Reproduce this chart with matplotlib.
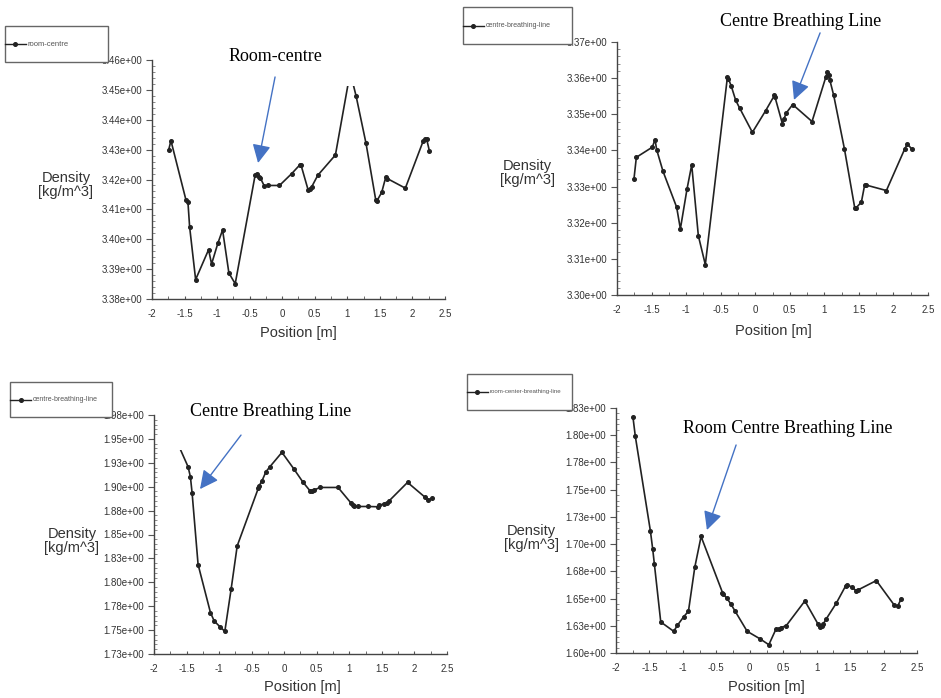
import matplotlib
matplotlib.use('Agg')
import matplotlib.pyplot as plt
from matplotlib.patches import Rectangle
from matplotlib.lines import Line2D
from matplotlib.ticker import MultipleLocator

# position [m] / density [kg/m^3]
pos_room = [-1.744, -1.709, -1.479, -1.448, -1.422, -1.330, -1.131, -1.085, -0.988, -0.916,
            -0.819, -0.722, -0.415, -0.390, -0.364, -0.338, -0.277, -0.221, -0.042, 0.147,
            0.275, 0.289, 0.398, 0.428, 0.454, 0.546, 0.817, 1.044, 1.134, 1.287,
            1.436, 1.456, 1.528, 1.589, 1.615, 1.891, 2.167, 2.192, 2.218, 2.259]
dens_room = [3.4299, 3.4330, 3.4132, 3.4124, 3.4041, 3.3865, 3.3965, 3.3917, 3.3987, 3.4031,
             3.3887, 3.3851, 3.4216, 3.4219, 3.4210, 3.4206, 3.4179, 3.4180, 3.4180, 3.4220,
             3.4250, 3.4248, 3.4165, 3.4169, 3.4176, 3.4214, 3.4282, 3.4559, 3.4480, 3.4321,
             3.4132, 3.4129, 3.4157, 3.4207, 3.4203, 3.4171, 3.4330, 3.4334, 3.4335, 3.4297]

pos_cbl = [-1.754, -1.720, -1.489, -1.450, -1.426, -1.334, -1.137, -1.083, -0.987, -0.919,
           -0.823, -0.722, -0.403, -0.389, -0.345, -0.283, -0.225, -0.041, 0.151, 0.277,
           0.287, 0.393, 0.417, 0.451, 0.542, 0.822, 1.020, 1.044, 1.063, 1.078,
           1.136, 1.290, 1.440, 1.454, 1.536, 1.584, 1.608, 1.898, 2.163, 2.202, 2.264]
dens_cbl = [3.3322, 3.3381, 3.3409, 3.3430, 3.3402, 3.3342, 3.3243, 3.3183, 3.3293, 3.3360,
            3.3164, 3.3084, 3.3602, 3.3599, 3.3577, 3.3539, 3.3517, 3.3450, 3.3510, 3.3552,
            3.3547, 3.3474, 3.3488, 3.3504, 3.3527, 3.3480, 3.3602, 3.3616, 3.3610, 3.3596,
            3.3552, 3.3405, 3.3241, 3.3240, 3.3257, 3.3305, 3.3304, 3.3289, 3.3404, 3.3418, 3.3404]

pos_cbl2 = [-1.745, -1.477, -1.441, -1.415, -1.323, -1.133, -1.076, -0.979, -0.912, -0.815,
            -0.722, -0.399, -0.389, -0.343, -0.281, -0.220, -0.035, 0.150, 0.283, 0.396,
            0.432, 0.453, 0.550, 0.827, 1.022, 1.053, 1.073, 1.135, 1.294, 1.438,
            1.453, 1.530, 1.576, 1.607, 1.894, 2.166, 2.207, 2.269]
dens_cbl2 = [1.9620, 1.9209, 1.9104, 1.8936, 1.8186, 1.7683, 1.7596, 1.7529, 1.7487, 1.7931,
             1.8381, 1.8982, 1.9006, 1.9059, 1.9156, 1.9209, 1.9359, 1.9184, 1.9052, 1.8957,
             1.8957, 1.8964, 1.8992, 1.8992, 1.8832, 1.8807, 1.8793, 1.8793, 1.8793, 1.8790,
             1.8807, 1.8818, 1.8825, 1.8849, 1.9045, 1.8888, 1.8860, 1.8877]

pos_rcbl = [-1.746, -1.711, -1.486, -1.451, -1.426, -1.331, -1.137, -1.082, -0.987, -0.917,
            -0.822, -0.728, -0.408, -0.393, -0.343, -0.283, -0.224, -0.039, 0.156, 0.285,
            0.395, 0.430, 0.465, 0.545, 0.824, 1.019, 1.049, 1.074, 1.094, 1.139,
            1.293, 1.433, 1.453, 1.528, 1.588, 1.618, 1.892, 2.162, 2.212, 2.266]
dens_rcbl = [1.8164, 1.7989, 1.7122, 1.6953, 1.6815, 1.6285, 1.6199, 1.6254, 1.6334, 1.6383,
             1.6788, 1.7070, 1.6555, 1.6539, 1.6503, 1.6450, 1.6389, 1.6199, 1.6129, 1.6076,
             1.6224, 1.6224, 1.6233, 1.6251, 1.6478, 1.6267, 1.6242, 1.6248, 1.6263, 1.6309,
             1.6457, 1.6616, 1.6628, 1.6604, 1.6573, 1.6579, 1.6665, 1.6438, 1.6432, 1.6500]

x_ticks = [-2, -1.5, -1, -0.5, 0, 0.5, 1, 1.5, 2, 2.5]
x_labels = ['-2', '-1.5', '-1', '-0.5', '0', '0.5', '1', '1.5', '2', '2.5']

y_ticks_1 = [3.38, 3.39, 3.40, 3.41, 3.42, 3.43, 3.44, 3.45, 3.46]
y_labels_1 = ['3.38e+00', '3.39e+00', '3.40e+00', '3.41e+00', '3.42e+00', '3.43e+00',
              '3.44e+00', '3.45e+00', '3.46e+00']
y_ticks_2 = [3.30, 3.31, 3.32, 3.33, 3.34, 3.35, 3.36, 3.37]
y_labels_2 = ['3.30e+00', '3.31e+00', '3.32e+00', '3.33e+00', '3.34e+00', '3.35e+00',
              '3.36e+00', '3.37e+00']
y_ticks_3 = [1.725, 1.75, 1.775, 1.80, 1.825, 1.85, 1.875, 1.90, 1.925, 1.95, 1.975]
y_labels_3 = ['1.73e+00', '1.75e+00', '1.78e+00', '1.80e+00', '1.83e+00', '1.85e+00',
              '1.88e+00', '1.90e+00', '1.93e+00', '1.95e+00', '1.98e+00']
y_ticks_4 = [1.60, 1.625, 1.65, 1.675, 1.70, 1.725, 1.75, 1.775, 1.80, 1.825]
y_labels_4 = ['1.60e+00', '1.63e+00', '1.65e+00', '1.68e+00', '1.70e+00', '1.73e+00',
              '1.75e+00', '1.78e+00', '1.80e+00', '1.83e+00']

legend_names = ['room-centre', 'centre-breathing-line', 'centre-breathing-line',
                'room-center-breathing-line']
notes = ['Room-centre', 'Centre Breathing Line', 'Centre Breathing Line',
         'Room Centre Breathing Line']

W, H = 941, 698
fig = plt.figure(figsize=(W / 100, H / 100), dpi=100)
plt.rcParams['font.family'] = ['Liberation Sans', 'DejaVu Sans']


def px_rect(l, t, r, b):
    return [l / W, 1 - b / H, (r - l) / W, (b - t) / H]


# axes boxes, legend boxes, label spots, note/arrow spots (pixels / axes fraction)
panels = [
    dict(ax=(152, 60, 445, 299), leg=(5, 26, 108, 62), lfs=5.5, ylab=(-0.294, 0.477), xlab=(0.498, -0.142),
         x=pos_room, y=dens_room, yt=y_ticks_1, yl=y_labels_1, ylim=(3.38, 3.46), minor=0.002,
         clip=3.4513, note=(0.420, 1.013), tail=(0.420, 0.929), tip=(0.362, 0.569)),
    dict(ax=(617, 42, 928, 295), leg=(463, 7, 572, 44), lfs=5, ylab=(-0.289, 0.482), xlab=(0.502, -0.142),
         x=pos_cbl, y=dens_cbl, yt=y_ticks_2, yl=y_labels_2, ylim=(3.30, 3.37), minor=0.002,
         clip=None, note=(0.592, 1.083), tail=(0.653, 1.036), tip=(0.569, 0.771)),
    dict(ax=(154, 415, 447, 654), leg=(10, 382, 112, 417), lfs=5, ylab=(-0.280, 0.473), xlab=(0.505, -0.138),
         x=pos_cbl2, y=dens_cbl2, yt=y_ticks_3, yl=y_labels_3, ylim=(1.725, 1.975), minor=0.005,
         clip=1.9383, note=(0.399, 1.013), tail=(0.297, 0.916), tip=(0.157, 0.690)),
    dict(ax=(616, 408, 917, 653), leg=(467, 374, 572, 410), lfs=4.4, ylab=(-0.282, 0.469), xlab=(0.498, -0.139),
         x=pos_rcbl, y=dens_rcbl, yt=y_ticks_4, yl=y_labels_4, ylim=(1.60, 1.825), minor=0.005,
         clip=None, note=(0.571, 0.918), tail=(0.399, 0.849), tip=(0.302, 0.502)),
]

for i, p in enumerate(panels):
    ax = fig.add_axes(px_rect(*p['ax']))
    line, = ax.plot(p['x'], p['y'], color='#222222', lw=1.2, marker='o', markersize=2.6)
    if p['clip'] is not None:
        r = Rectangle((-2, p['ylim'][0]), 4.5, p['clip'] - p['ylim'][0], transform=ax.transData)
        line.set_clip_path(r)

    ax.set_xlim(-2, 2.5)
    ax.set_ylim(*p['ylim'])
    ax.set_xticks(x_ticks)
    ax.set_xticklabels(x_labels)
    ax.set_yticks(p['yt'])
    ax.set_yticklabels(p['yl'])
    ax.xaxis.set_minor_locator(MultipleLocator(0.25))
    ax.yaxis.set_minor_locator(MultipleLocator(p['minor']))
    ax.spines['top'].set_visible(False)
    ax.spines['right'].set_visible(False)
    for s in ('left', 'bottom'):
        ax.spines[s].set_color('#444444')
        ax.spines[s].set_linewidth(1.0)
    ax.tick_params(axis='x', which='both', direction='in', length=2.5, color='#555555',
                   labelsize=7, labelcolor='#333333', pad=7)
    ax.tick_params(axis='y', which='major', direction='out', length=4, color='#555555',
                   labelsize=7, labelcolor='#333333', pad=3)
    ax.tick_params(axis='y', which='minor', direction='in', length=2, color='#777777')

    ax.set_xlabel('Position [m]', fontsize=10.5, color='#333333')
    ax.xaxis.set_label_coords(*p['xlab'])
    ax.xaxis.label.set_va('center')
    ax.set_ylabel('Density\n[kg/m^3]', fontsize=10.5, color='#333333', rotation=0,
                  ha='center', va='center', linespacing=0.95)
    ax.yaxis.set_label_coords(*p['ylab'])

    # legend box drawn the way the solver's plot does it: entry hugging the left edge
    l, t, r, b = p['leg']
    fig.add_artist(Rectangle((l / W, 1 - b / H), (r - l) / W, (b - t) / H,
                             transform=fig.transFigure, facecolor='white',
                             edgecolor='#666666', lw=1.0))
    ym = 1 - (t + b) / 2 / H
    fig.add_artist(Line2D([l / W, (l + 21) / W], [ym, ym], transform=fig.transFigure,
                          color='#222222', lw=1.0))
    fig.add_artist(Line2D([(l + 10.5) / W], [ym], transform=fig.transFigure,
                          color='#222222', marker='o', markersize=2.6))
    fig.text((l + 23) / W, ym, legend_names[i], fontsize=p['lfs'], color='#555555',
             ha='left', va='center')

    ax.text(p['note'][0], p['note'][1], notes[i], transform=ax.transAxes, ha='center',
            va='center', fontsize=13, family='Liberation Serif', color='black')
    ax.annotate('', xy=p['tip'], xycoords='axes fraction', xytext=p['tail'],
                textcoords='axes fraction', annotation_clip=False,
                arrowprops=dict(arrowstyle='-|>', color='#4472C4', lw=1.0,
                                mutation_scale=28, shrinkA=0, shrinkB=0))

fig.savefig('out.png', dpi=100)
